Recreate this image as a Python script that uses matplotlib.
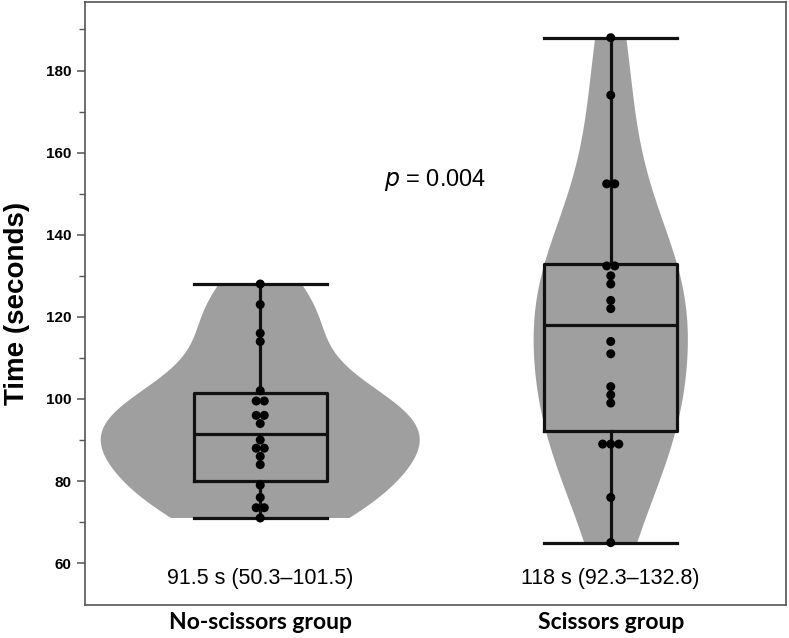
#!/usr/bin/env python3
"""
Violin + box + dot plot of task time for the no-scissors and scissors groups.
"""

import numpy as np
import matplotlib.pyplot as plt


GROUP_LABELS = ["No-scissors group", "Scissors group"]
POSITIONS = [1, 2]

NO_SCISSORS_TIMES = [
    128, 123, 116, 114, 102, 99.5, 99.5, 96, 96, 94,
    90, 88, 88, 86, 84, 79, 76, 73.5, 73.5, 71,
]
SCISSORS_TIMES = [
    188, 174, 152.4, 152.4, 132.4, 132.4, 130, 128, 124, 122,
    114, 111, 103, 101, 99, 89, 89, 89, 76, 65,
]

# summary values shown by the boxes
MEDIANS = [91.5, 118.0]
Q1_VALUES = [80.0, 92.3]
Q3_VALUES = [101.5, 132.8]

SUMMARY_TEXTS = ["91.5 s (50.3\u2013101.5)", "118 s (92.3\u2013132.8)"]
P_TEXT = "$\\it{p}$ = 0.004"

VIOLIN_COLOR = "#9f9f9f"
LINE_COLOR = "#111111"
SPINE_COLOR = "#555555"


def swarm_offsets(values, spacing):
    # equal values sit side by side, centred on the group position
    values = np.asarray(values, dtype=float)
    offsets = np.zeros(len(values))
    for value in np.unique(values):
        index = np.where(values == value)[0]
        count = len(index)
        offsets[index] = (np.arange(count) - (count - 1) / 2) * spacing
    return offsets


def main():
    datasets = [NO_SCISSORS_TIMES, SCISSORS_TIMES]

    figure = plt.figure(figsize=(7.89, 6.38), dpi=100)
    axis = figure.add_axes([0.1077, 0.0517, 0.8885, 0.9452])

    violins = axis.violinplot(
        datasets,
        positions=POSITIONS,
        widths=[0.91, 0.44],
        showextrema=False,
        bw_method=0.55,
    )
    for body in violins["bodies"]:
        body.set_facecolor(VIOLIN_COLOR)
        body.set_edgecolor("none")
        body.set_alpha(1.0)
        body.set_zorder(1)

    box_stats = []
    for index, data in enumerate(datasets):
        box_stats.append(
            {
                "med": MEDIANS[index],
                "q1": Q1_VALUES[index],
                "q3": Q3_VALUES[index],
                "whislo": min(data),
                "whishi": max(data),
            }
        )

    line_style = {"color": LINE_COLOR, "linewidth": 2.3}
    axis.bxp(
        box_stats,
        positions=POSITIONS,
        widths=0.38,
        capwidths=0.38,
        showfliers=False,
        patch_artist=False,
        boxprops=line_style,
        whiskerprops=line_style,
        capprops=line_style,
        medianprops=line_style,
        zorder=2,
    )

    for position, data in zip(POSITIONS, datasets):
        offsets = swarm_offsets(data, spacing=0.023)
        axis.scatter(
            position + offsets,
            data,
            s=42,
            color="black",
            edgecolors="none",
            zorder=3,
        )

    for position, text in zip(POSITIONS, SUMMARY_TEXTS):
        axis.text(
            position,
            56.2,
            text,
            ha="center",
            va="center",
            fontsize=15.5,
            family="Liberation Sans",
        )

    axis.text(
        1.5,
        153.3,
        P_TEXT,
        ha="center",
        va="center",
        fontsize=17,
        family="Liberation Sans",
    )

    axis.set_xlim(0.5, 2.5)
    axis.set_ylim(49.8, 196.7)

    axis.set_yticks(np.arange(60, 181, 20))
    axis.set_yticks(np.arange(70, 191, 20), minor=True)
    axis.set_xticks(POSITIONS)
    axis.set_xticklabels(
        GROUP_LABELS,
        fontsize=16.5,
        fontweight="bold",
        family="Lato",
    )
    for label in axis.get_yticklabels():
        label.set_fontweight("bold")
        label.set_family("Liberation Sans")
        label.set_fontsize(11)

    axis.tick_params(axis="x", length=0, pad=5)
    axis.tick_params(
        axis="y",
        which="major",
        length=6,
        width=1.1,
        color=SPINE_COLOR,
        pad=4,
    )
    axis.tick_params(
        axis="y",
        which="minor",
        length=4,
        width=1.0,
        color=SPINE_COLOR,
    )

    for spine in axis.spines.values():
        spine.set_color(SPINE_COLOR)
        spine.set_linewidth(1.2)

    axis.set_ylabel(
        "Time (seconds)",
        fontsize=20,
        fontweight="bold",
        family="Liberation Sans",
        labelpad=11,
    )

    figure.savefig("out.png", dpi=100)
    plt.close(figure)


if __name__ == "__main__":
    main()
